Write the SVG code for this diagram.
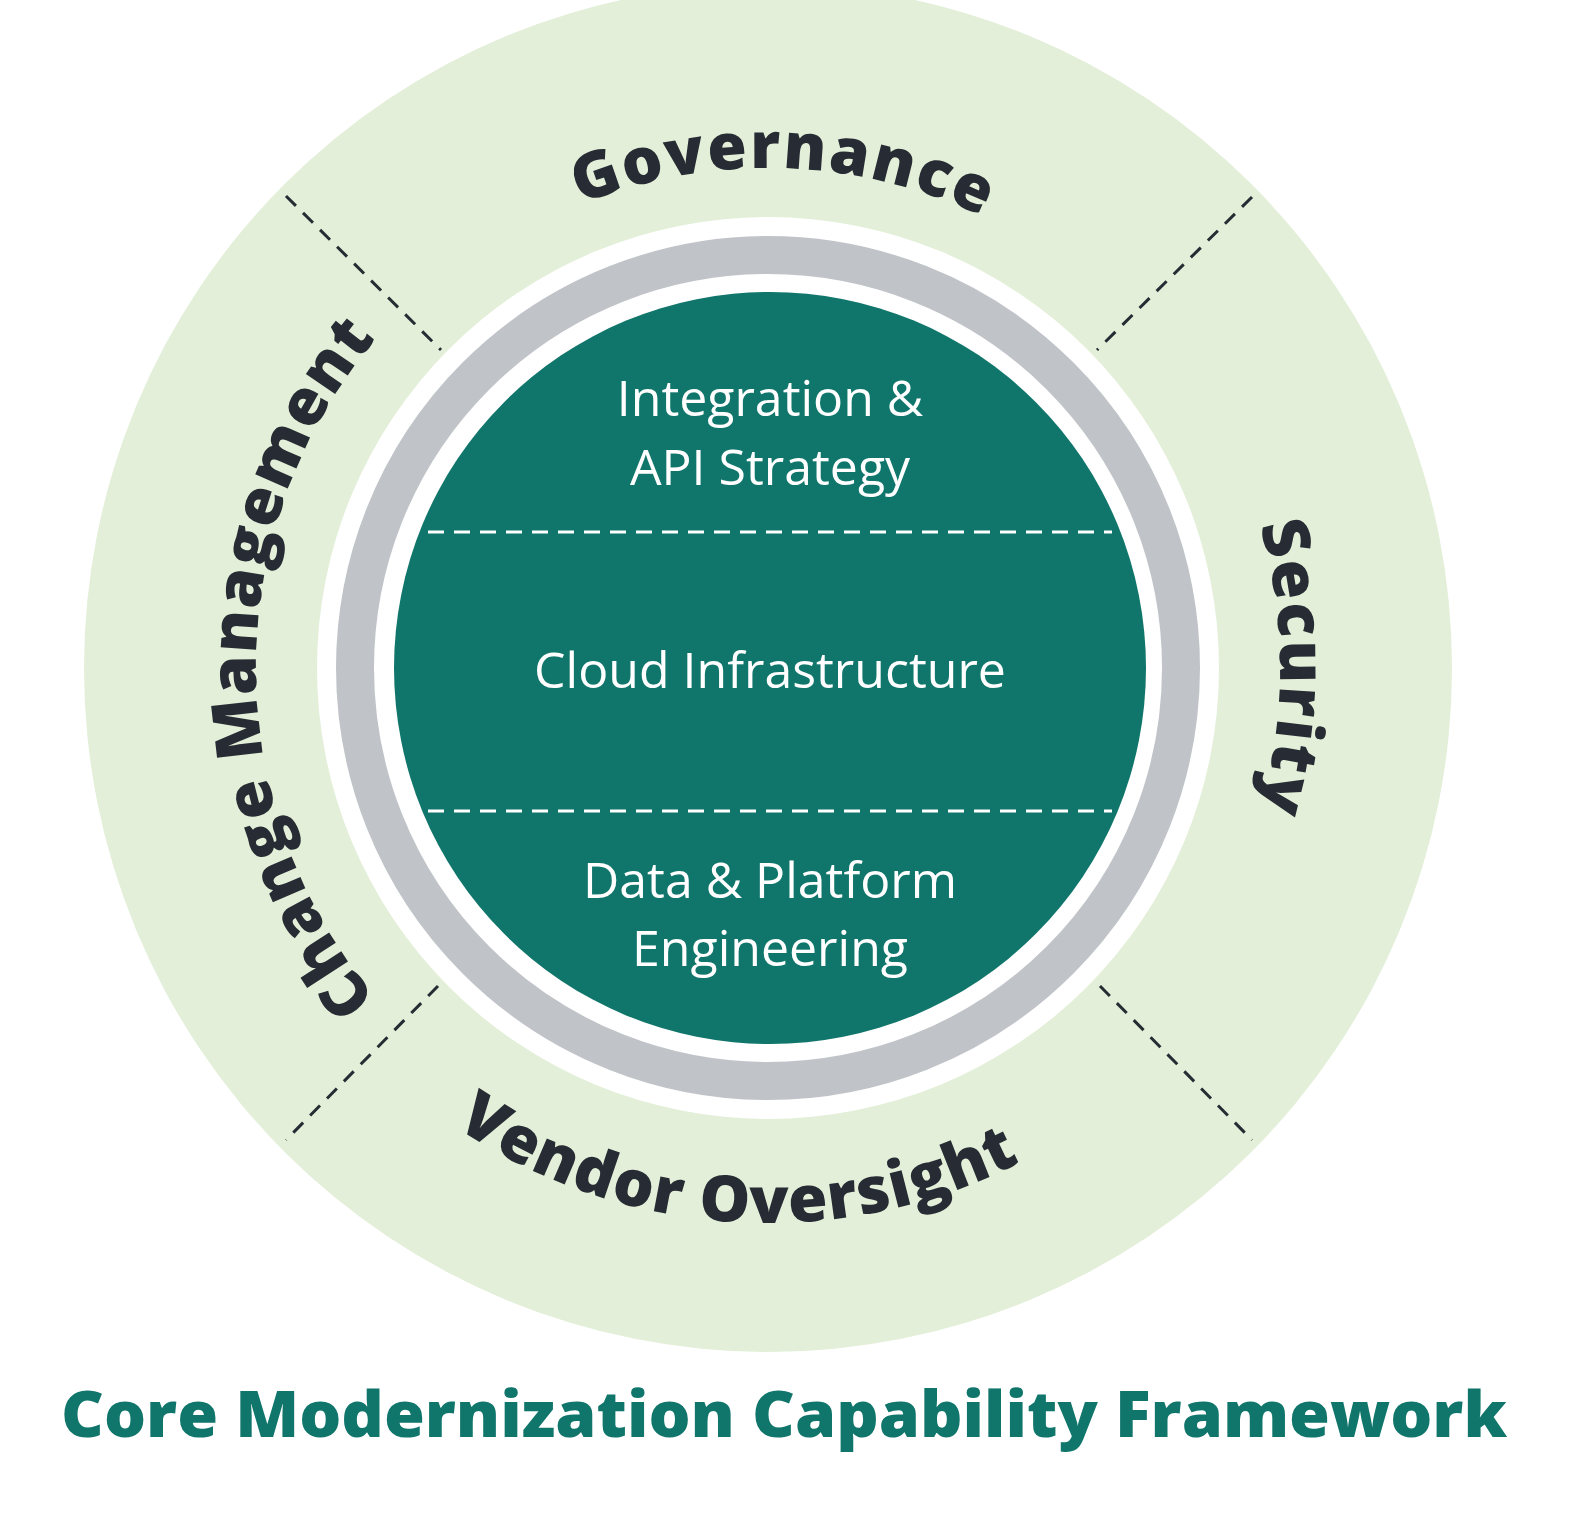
<svg xmlns="http://www.w3.org/2000/svg" width="1589" height="1522" viewBox="0 0 1589 1522">
<style>
.ring{font-family:"Open Sans","Liberation Sans",sans-serif;font-weight:800;font-size:64px;fill:#272b33}
.inner{font-family:"Open Sans","Noto Sans","Liberation Sans",sans-serif;font-size:50px;fill:#ffffff;text-anchor:middle}
.sep{stroke:#272b33;stroke-width:3;stroke-dasharray:14 10}
.wsep{stroke:#ffffff;stroke-width:3;stroke-dasharray:16 10}
</style>
<defs>
<path id="cw500" d="M768,1168 A500,500 0 1 1 768,168 A500,500 0 1 1 768,1168"/>
<path id="cw512" d="M768,1180 A512,512 0 1 1 768,156 A512,512 0 1 1 768,1180"/>
<path id="ccw555" d="M768,113 A555,555 0 1 0 768,1223 A555,555 0 1 0 768,113"/>
</defs>
<rect width="1589" height="1522" fill="#ffffff"/>
<g id="outer-ring">
<circle cx="768" cy="668" r="684" fill="#e3efd8"/>
<circle cx="768" cy="668" r="451" fill="#ffffff"/>
<circle cx="768" cy="668" r="413" fill="none" stroke="#c0c4c8" stroke-width="38"/>
</g>
<g id="connectors">
<line class="sep" x1="286" y1="196" x2="441" y2="350"/>
<line class="sep" x1="1252" y1="197" x2="1097" y2="350"/>
<line class="sep" x1="438" y1="986" x2="286" y2="1140"/>
<line class="sep" x1="1100" y1="986" x2="1252" y2="1140"/>
</g>
<g id="core">
<circle cx="770" cy="668" r="376" fill="#10766b"/>
<line class="wsep" x1="428" y1="532" x2="1112" y2="532"/>
<line class="wsep" x1="428" y1="811" x2="1112" y2="811"/>
</g>
<g id="integration"><text class="inner" x="770" y="416">Integration &amp;</text><text class="inner" x="770" y="485">API Strategy</text></g>
<g id="cloud"><text class="inner" x="770" y="688">Cloud Infrastructure</text></g>
<g id="data"><text class="inner" x="770" y="898">Data &amp; Platform</text><text class="inner" x="770" y="966">Engineering</text></g>
<g id="governance"><text class="ring" text-anchor="middle" letter-spacing="2"><textPath href="#cw500" startOffset="50.5%">Governance</textPath></text></g>
<g id="security"><text class="ring" text-anchor="middle" letter-spacing="2"><textPath href="#cw512" startOffset="75%">Security</textPath></text></g>
<g id="change"><text class="ring" text-anchor="middle" letter-spacing="1"><textPath href="#cw512" startOffset="25%">Change Management</textPath></text></g>
<g id="vendor"><text class="ring" text-anchor="middle" letter-spacing="1"><textPath href="#ccw555" startOffset="49%">Vendor Oversight</textPath></text></g>
<g id="title"><text x="784" y="1437" text-anchor="middle" font-family="Open Sans, Liberation Sans, sans-serif" font-weight="800" font-size="64" fill="#10766b" textLength="1446" lengthAdjust="spacingAndGlyphs">Core Modernization Capability Framework</text></g>
</svg>
